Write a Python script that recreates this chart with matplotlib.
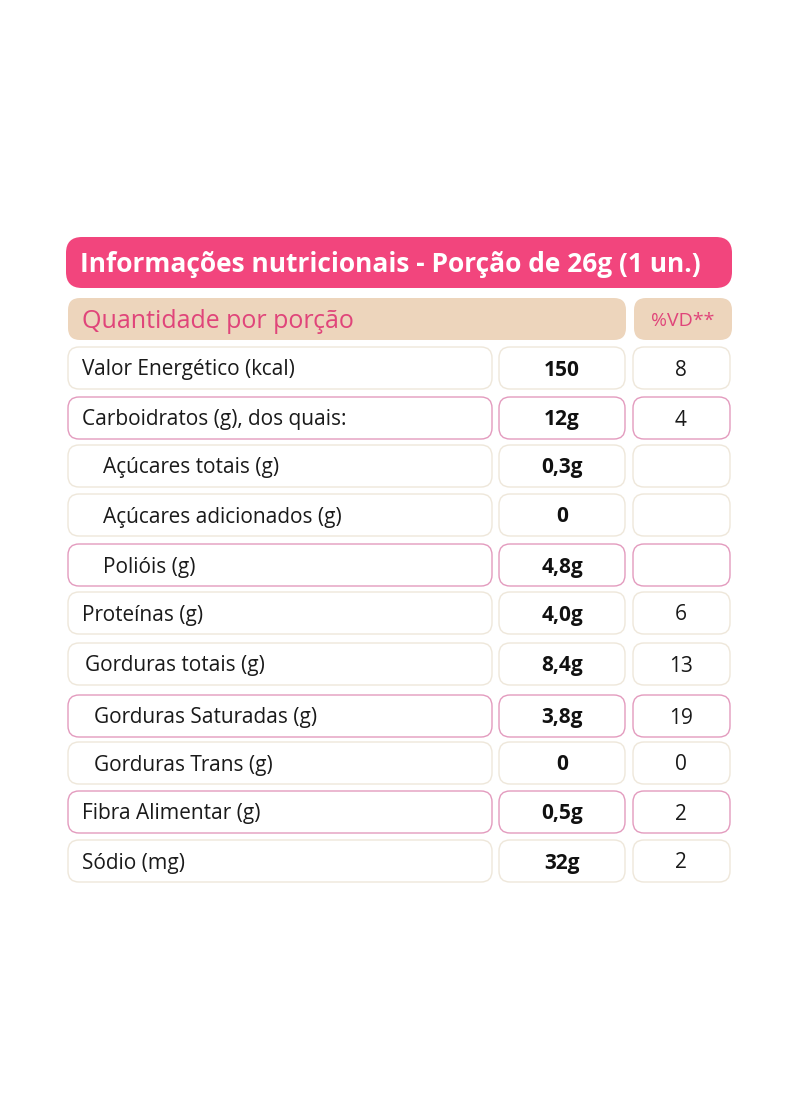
import matplotlib
matplotlib.use("Agg")
import matplotlib.pyplot as plt
from matplotlib.patches import FancyBboxPatch

title = "Informações nutricionais - Porção de 26g (1 un.)"
header_left = "Quantidade por porção"
header_right = "%VD**"
labels = ["Valor Energético (kcal)", "Carboidratos (g), dos quais:", "Açúcares totais (g)",
          "Açúcares adicionados (g)", "Polióis (g)", "Proteínas (g)", "Gorduras totais (g)",
          "Gorduras Saturadas (g)", "Gorduras Trans (g)", "Fibra Alimentar (g)", "Sódio (mg)"]
amounts = ["150", "12g", "0,3g", "0", "4,8g", "4,0g", "8,4g", "3,8g", "0", "0,5g", "32g"]
vd = ["8", "4", "", "", "", "6", "13", "19", "0", "2", "2"]
pink_rows = [1, 4, 7, 9]
indent = [0, 0, 21, 21, 21, 0, 3, 12, 12, 0, 0]
row_y = [368, 418, 466, 515, 565, 613, 664, 716, 763, 812, 861]

fig = plt.figure(figsize=(8, 11.18), dpi=100)
ax = fig.add_axes([0, 0, 1, 1])
ax.set_xlim(0, 800); ax.set_ylim(1118, 0); ax.axis("off")

def box(x0, y0, x1, y1, fc, ec, r=12, lw=1.0):
    ax.add_patch(FancyBboxPatch((x0 + r, y0 + r), x1 - x0 - 2*r, y1 - y0 - 2*r,
                                boxstyle=f"round,pad={r}", fc=fc, ec=ec, lw=lw))

FONT = "Open Sans"
box(66, 237, 732, 288, "#F2457D", "none", r=16)
ax.text(80, 264, title, color="white", fontsize=19, fontweight="bold", family=FONT, va="center")
box(68, 298, 626, 340, "#EDD5BC", "none", r=12)
ax.text(82, 321, header_left, color="#E0457A", fontsize=18, family=FONT, va="center")
box(634, 298, 732, 340, "#EDD5BC", "none", r=12)
ax.text(683, 321, header_right, color="#E0457A", fontsize=14, family=FONT, va="center", ha="center")

for i, y in enumerate(row_y):
    ec = "#E39BBE" if i in pink_rows else "#EEE7DA"
    y0, y1 = y - 21, y + 21
    box(68, y0, 492, y1, "white", ec, r=11)
    box(499, y0, 625, y1, "white", ec, r=11)
    box(633, y0, 730, y1, "white", ec, r=11)
    ax.text(82 + indent[i], y + 2, labels[i], fontsize=15, family=FONT, va="center", color="#1a1a1a")
    ax.text(562, y + 2, amounts[i], fontsize=15, fontweight="bold", family=FONT, va="center", ha="center", color="#111")
    ax.text(681, y + 2, vd[i], fontsize=15, family=FONT, va="center", ha="center", color="#1a1a1a")

fig.savefig("out.png", dpi=100)
